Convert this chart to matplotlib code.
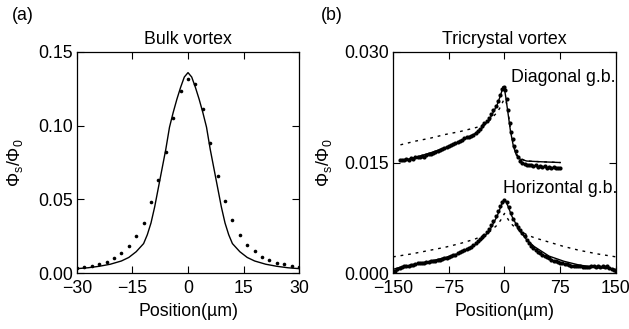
import matplotlib
matplotlib.use("Agg")
import matplotlib.pyplot as plt
import numpy as np

plt.rcParams["font.family"] = ["Liberation Sans", "DejaVu Sans"]
plt.rcParams["mathtext.fontset"] = "custom"
plt.rcParams["mathtext.rm"] = "Liberation Sans"
plt.rcParams["mathtext.it"] = "Liberation Sans:italic"
plt.rcParams["font.size"] = 12.8

# ---- panel (a): bulk vortex ----
bulk_x = list(range(-30, 31, 2))
bulk_y = [0.0034, 0.0040, 0.0050, 0.0060, 0.0074, 0.0100, 0.0135, 0.0185,
          0.0250, 0.0340, 0.0480, 0.0630, 0.0820, 0.1050, 0.1236, 0.1320,
          0.1280, 0.1110, 0.0880, 0.0660, 0.0490, 0.0360, 0.0255, 0.0190,
          0.0147, 0.0110, 0.0090, 0.0068, 0.0060, 0.0050, 0.0038]

bulk_fit_x = [-30, -27, -24, -21, -18, -16, -14, -12, -11, -10, -9, -8, -7, -6,
              -5, -4, -3, -2, -1, 0, 1, 2, 3, 4, 5, 6, 7, 8, 9, 10, 11, 12,
              14, 16, 18, 21, 24, 27, 30]
bulk_fit_y = [0.0030, 0.0036, 0.0046, 0.0060, 0.0082, 0.0106, 0.0145, 0.0200,
              0.0260, 0.0340, 0.0450, 0.0580, 0.0710, 0.0840, 0.0990, 0.1090,
              0.1180, 0.1260, 0.1330, 0.1360, 0.1330, 0.1260, 0.1180, 0.1090,
              0.0990, 0.0840, 0.0710, 0.0580, 0.0450, 0.0340, 0.0260, 0.0200,
              0.0145, 0.0106, 0.0082, 0.0060, 0.0046, 0.0036, 0.0030]

# ---- panel (b): tricrystal vortex (values in units of 1e-3) ----
diag_x = list(range(-141, -2, 3)) + [-1, 1, 3, 5, 7, 9, 11, 13, 15] + list(range(18, 76, 3))
diag_y = [15.3, 15.4, 15.3, 15.5, 15.4, 15.6, 15.5, 15.7, 15.7, 15.8, 15.9,
          15.8, 16.0, 16.1, 16.2, 16.3, 16.4, 16.6, 16.7, 16.8, 17.0, 17.1,
          17.2, 17.4, 17.5, 17.7, 17.8, 17.9, 18.1, 18.3, 18.4, 18.5, 18.6,
          18.8, 19.0, 19.3, 19.6, 19.9, 20.3, 20.7, 21.1, 21.6, 22.1, 22.7,
          23.4, 24.2, 25.0,
          25.3, 24.8, 23.6, 22.1, 20.4, 19.2, 18.2, 17.2, 16.5,
          15.8, 15.2, 14.9, 14.8, 14.7, 14.6, 14.6, 14.5, 14.6, 14.4, 14.5,
          14.4, 14.5, 14.3, 14.4, 14.2, 14.4, 14.3, 14.2, 14.3]

diag_fit_x = [-140, -120, -100, -80, -60, -40, -30, -20, -10, -5, -2, 0, 2, 5,
              8, 12, 16, 20, 30, 50, 75]
diag_fit_y = [15.2, 15.7, 16.3, 17.0, 17.8, 18.9, 19.7, 20.9, 22.8, 24.2, 25.3,
              25.0, 23.7, 21.5, 19.3, 17.2, 16.0, 15.5, 15.2, 15.1, 15.0]

diag_dot_x = [-140, -120, -100, -80, -60, -40, -33, -20, -10, -5, -2, 0, 2, 5,
              8, 12, 16, 20, 30, 50, 75]
diag_dot_y = [17.4, 17.9, 18.3, 18.8, 19.2, 19.7, 19.9, 20.7, 21.8, 22.6, 23.3,
              23.6, 23.4, 21.8, 19.6, 17.5, 16.2, 15.6, 15.2, 15.1, 15.0]

horiz_x = list(range(-147, 151, 3))
horiz_y = [0.3, 0.5, 0.7, 0.8, 0.9, 1.0, 1.0, 1.1, 1.1, 1.2, 1.3, 1.3, 1.4,
           1.4, 1.5, 1.5, 1.6, 1.6, 1.7, 1.8, 1.8, 1.9, 2.1, 2.1, 2.2, 2.3,
           2.4, 2.5, 2.7, 2.8, 3.0, 3.1, 3.3, 3.4, 3.6, 3.8, 4.1, 4.3, 4.6,
           4.9, 5.2, 5.6, 6.0, 6.5, 7.0, 7.7, 8.4, 9.1, 9.7, 9.9, 9.6, 8.9,
           8.1, 7.3, 6.7, 6.2, 5.8, 5.4, 5.0, 4.5, 4.1, 3.7,
           3.4, 3.1, 2.9, 2.7, 2.5, 2.3, 2.2, 2.0, 1.8, 1.7,
           1.6, 1.5, 1.4, 1.3, 1.2, 1.2, 1.1, 1.0, 1.0, 0.9,
           0.9, 0.9, 0.8, 0.8, 0.8, 0.8, 0.9, 0.9, 0.8, 0.9,
           0.8, 0.9, 0.8, 0.9, 0.7, 0.5, 0.4, 0.3]

horiz_fit_x = [-150, -140, -120, -100, -80, -60, -40, -30, -20, -10, -5, -2, 0,
               2, 5, 10, 20, 30, 40, 60, 80, 100, 120, 140, 150]
horiz_fit_y = [0.5, 0.8, 1.2, 1.6, 2.1, 2.7, 3.8, 4.6, 5.8, 7.7, 9.0, 9.7, 9.9,
               9.7, 9.0, 7.7, 5.8, 4.5, 3.6, 2.3, 1.6, 1.1, 0.8, 0.6, 0.5]

horiz_dot_x = [-150, -125, -100, -80, -60, -40, -33, -20, -10, -5, 0, 3, 6, 10,
               15, 20, 30, 40, 60, 80, 100, 125, 150]
horiz_dot_y = [2.2, 2.6, 3.1, 3.5, 4.0, 4.6, 4.9, 5.6, 6.5, 7.2, 8.1, 7.6, 7.1,
               6.6, 6.1, 5.8, 5.2, 4.8, 4.2, 3.6, 3.1, 2.6, 2.2]


def style_axes(ax):
	ax.tick_params(direction="in", top=True, right=True, length=5, width=0.8)
	ax.tick_params(axis="x", pad=5)
	ax.tick_params(axis="y", pad=3)
	for s in ax.spines.values():
		s.set_linewidth(0.9)


fig = plt.figure(figsize=(6.29, 3.29), dpi=100)
ax1 = fig.add_axes([0.1224, 0.170, 0.353, 0.672])
ax2 = fig.add_axes([0.6248, 0.170, 0.3545, 0.672])

# (a)
ax1.plot(bulk_fit_x, bulk_fit_y, color="black", lw=1.0)
ax1.plot(bulk_x, bulk_y, "o", color="black", ms=2.6, mew=0)
ax1.set_xlim(-30, 30)
ax1.set_ylim(0, 0.15)
ax1.set_xticks([-30, -15, 0, 15, 30])
ax1.set_xticklabels(["\u221230", "\u221215", "0", "15", "30"])
ax1.set_yticks([0, 0.05, 0.10, 0.15])
ax1.set_yticklabels(["0.00", "0.05", "0.10", "0.15"])
ax1.set_xlabel("Position(\u00b5m)", labelpad=4)
ax1.set_ylabel("\u03a6$_\\mathrm{s}$/\u03a6$_0$", labelpad=9)
ax1.set_title("Bulk vortex", fontsize=12.8, pad=6)
style_axes(ax1)

# (b)
s = 1e-3
ax2.plot(diag_dot_x, np.array(diag_dot_y) * s, color="black", lw=1.0, ls=(0, (2, 3.5)))
ax2.plot(horiz_dot_x, np.array(horiz_dot_y) * s, color="black", lw=1.0, ls=(0, (2, 3.5)))
ax2.plot(diag_x, np.array(diag_y) * s, "o", color="black", ms=3.0, mew=0)
ax2.plot(horiz_x, np.array(horiz_y) * s, "o", color="black", ms=3.0, mew=0)
ax2.plot(diag_fit_x, np.array(diag_fit_y) * s, color="black", lw=1.0)
ax2.plot(horiz_fit_x, np.array(horiz_fit_y) * s, color="black", lw=1.0)
ax2.set_xlim(-150, 150)
ax2.set_ylim(0, 0.030)
ax2.set_xticks([-150, -75, 0, 75, 150])
ax2.set_xticklabels(["\u2212150", "\u221275", "0", "75", "150"])
ax2.set_yticks([0, 0.015, 0.030])
ax2.set_yticklabels(["0.000", "0.015", "0.030"])
ax2.set_xlabel("Position(\u00b5m)", labelpad=4)
ax2.set_ylabel("\u03a6$_\\mathrm{s}$/\u03a6$_0$", labelpad=7)
ax2.set_title("Tricrystal vortex", fontsize=12.8, pad=6)
ax2.text(150, 0.0266, "Diagonal g.b.", ha="right", va="center")
ax2.text(152, 0.0115, "Horizontal g.b.", ha="right", va="center")
style_axes(ax2)

fig.text(23 / 629, 1 - 15 / 329, "(a)", ha="center", va="center")
fig.text(332 / 629, 1 - 15 / 329, "(b)", ha="center", va="center")

fig.savefig("out.png", dpi=100)
